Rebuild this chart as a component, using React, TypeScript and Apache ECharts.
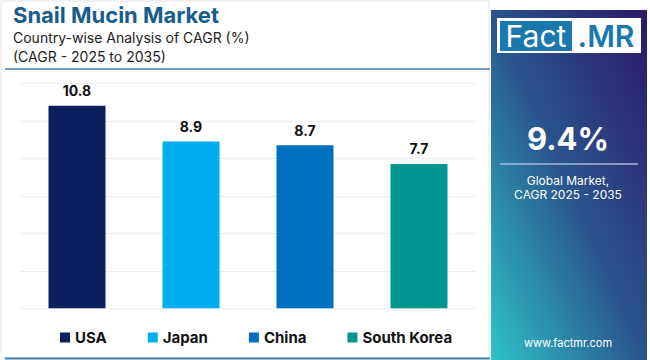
import React, { useEffect, useRef } from "react";
import * as echarts from "echarts";

const categories = ["USA", "Japan", "China", "South Korea"];
const values = [10.8, 8.9, 8.7, 7.7];
const colors = ["#0c1f5e", "#00aeef", "#0070c0", "#00968f"];
const yTicks = { min: 0, max: 12, interval: 2 };
const globalCagr = "9.4%";

const FONT = "Inter, 'Noto Sans', sans-serif";

export default function App() {
  const ref = useRef<HTMLDivElement>(null);
  useEffect(() => {
    if (!ref.current) return;
    const chart = echarts.init(ref.current, undefined, { renderer: "svg" });
    const series = categories.map((name, i) => ({
      name,
      type: "bar",
      stack: "all",
      barWidth: 57,
      itemStyle: { color: colors[i] },
      label: {
        show: true,
        position: "top",
        distance: 8,
        color: "#111",
        fontWeight: "bold",
        fontSize: 14,
        fontFamily: FONT,
      },
      data: categories.map((_, j) => (j === i ? values[i] : "-")),
    }));
    chart.setOption({
      animation: false,
      backgroundColor: "#ffffff",
      grid: { left: 20, right: 174, top: 83.3, bottom: 51.7, containLabel: false },
      xAxis: {
        type: "category",
        data: categories,
        axisLine: { show: true, lineStyle: { color: "#eeeeee" } },
        axisTick: { show: false },
        axisLabel: { show: false },
      },
      yAxis: {
        type: "value",
        min: yTicks.min,
        max: yTicks.max,
        interval: yTicks.interval,
        axisLabel: { show: false },
        axisLine: { show: false },
        axisTick: { show: false },
        splitLine: { lineStyle: { color: "#eeeeee" } },
      },
      legend: {
        data: categories,
        left: 55,
        top: 325,
        itemWidth: 10,
        itemHeight: 10,
        itemGap: 41,
        icon: "rect",
        textStyle: { fontFamily: FONT, fontWeight: "bold", fontSize: 15, color: "#111" },
      },
      graphic: [
        {
          type: "rect",
          shape: { x: 1, y: 1, width: 488, height: 357 },
          style: { fill: "none", stroke: "#e6e6e6", lineWidth: 1 },
          silent: true,
        },
        {
          type: "line",
          shape: { x1: 5, y1: 69, x2: 490, y2: 69 },
          style: { stroke: "#3f7fb0", lineWidth: 1.5 },
        },
        {
          type: "line",
          shape: { x1: 5, y1: 358.5, x2: 490, y2: 358.5 },
          style: { stroke: "#3f7fb0", lineWidth: 2 },
        },
        {
          type: "text",
          left: 13,
          top: 4,
          style: { text: "Snail Mucin Market", fontSize: 22, fontWeight: "bold", fill: "#175d8d", fontFamily: FONT },
        },
        {
          type: "text",
          left: 13,
          top: 30,
          style: { text: "Country-wise Analysis of CAGR (%)", fontSize: 14, fill: "#222", fontFamily: FONT },
        },
        {
          type: "text",
          left: 13,
          top: 49,
          style: { text: "(CAGR - 2025 to 2035)", fontSize: 14, fill: "#222", fontFamily: FONT },
        },
        {
          type: "rect",
          shape: { x: 491, y: 10, width: 156, height: 350 },
          style: {
            fill: new echarts.graphic.LinearGradient(1, 0, 0, 1, [
              { offset: 0, color: "#2d1766" },
              { offset: 0.5, color: "#2a548c" },
              { offset: 1, color: "#2ec3c8" },
            ]),
          },
        },
        {
          type: "rect",
          shape: { x: 497, y: 18, width: 144, height: 35 },
          style: { fill: "#ffffff" },
        },
        {
          type: "rect",
          shape: { x: 500, y: 21, width: 72, height: 30 },
          style: { fill: "#1b78ae" },
        },
        {
          type: "text",
          x: 536,
          y: 36,
          style: { text: "Fact", fontSize: 30, fill: "#ffffff", fontFamily: FONT, align: "center", verticalAlign: "middle" },
        },
        {
          type: "text",
          x: 606,
          y: 36,
          style: { text: ".MR", fontSize: 30, fontWeight: 600, fill: "#1b78ae", fontFamily: FONT, align: "center", verticalAlign: "middle" },
        },
        {
          type: "text",
          x: 568,
          y: 138,
          style: { text: globalCagr, fontSize: 31, fontWeight: "bold", fill: "#ffffff", fontFamily: FONT, align: "center", verticalAlign: "middle" },
        },
        {
          type: "line",
          shape: { x1: 500, y1: 164, x2: 638, y2: 164 },
          style: { stroke: "#aab8d8", lineWidth: 1.5 },
        },
        {
          type: "text",
          x: 568,
          y: 180,
          style: { text: "Global Market,", fontSize: 12, fill: "#ffffff", fontFamily: FONT, align: "center", verticalAlign: "middle" },
        },
        {
          type: "text",
          x: 568,
          y: 194,
          style: { text: "CAGR 2025 - 2035", fontSize: 12, fill: "#ffffff", fontFamily: FONT, align: "center", verticalAlign: "middle" },
        },
        {
          type: "text",
          x: 568,
          y: 343,
          style: { text: "www.factmr.com", fontSize: 11, fill: "#ffffff", fontFamily: FONT, align: "center", verticalAlign: "middle" },
        },
      ],
      series,
    });
    return () => chart.dispose();
  }, []);
  return <div ref={ref} style={{ position: "fixed", left: 0, top: 0, width: 650, height: 360 }} />;
}
